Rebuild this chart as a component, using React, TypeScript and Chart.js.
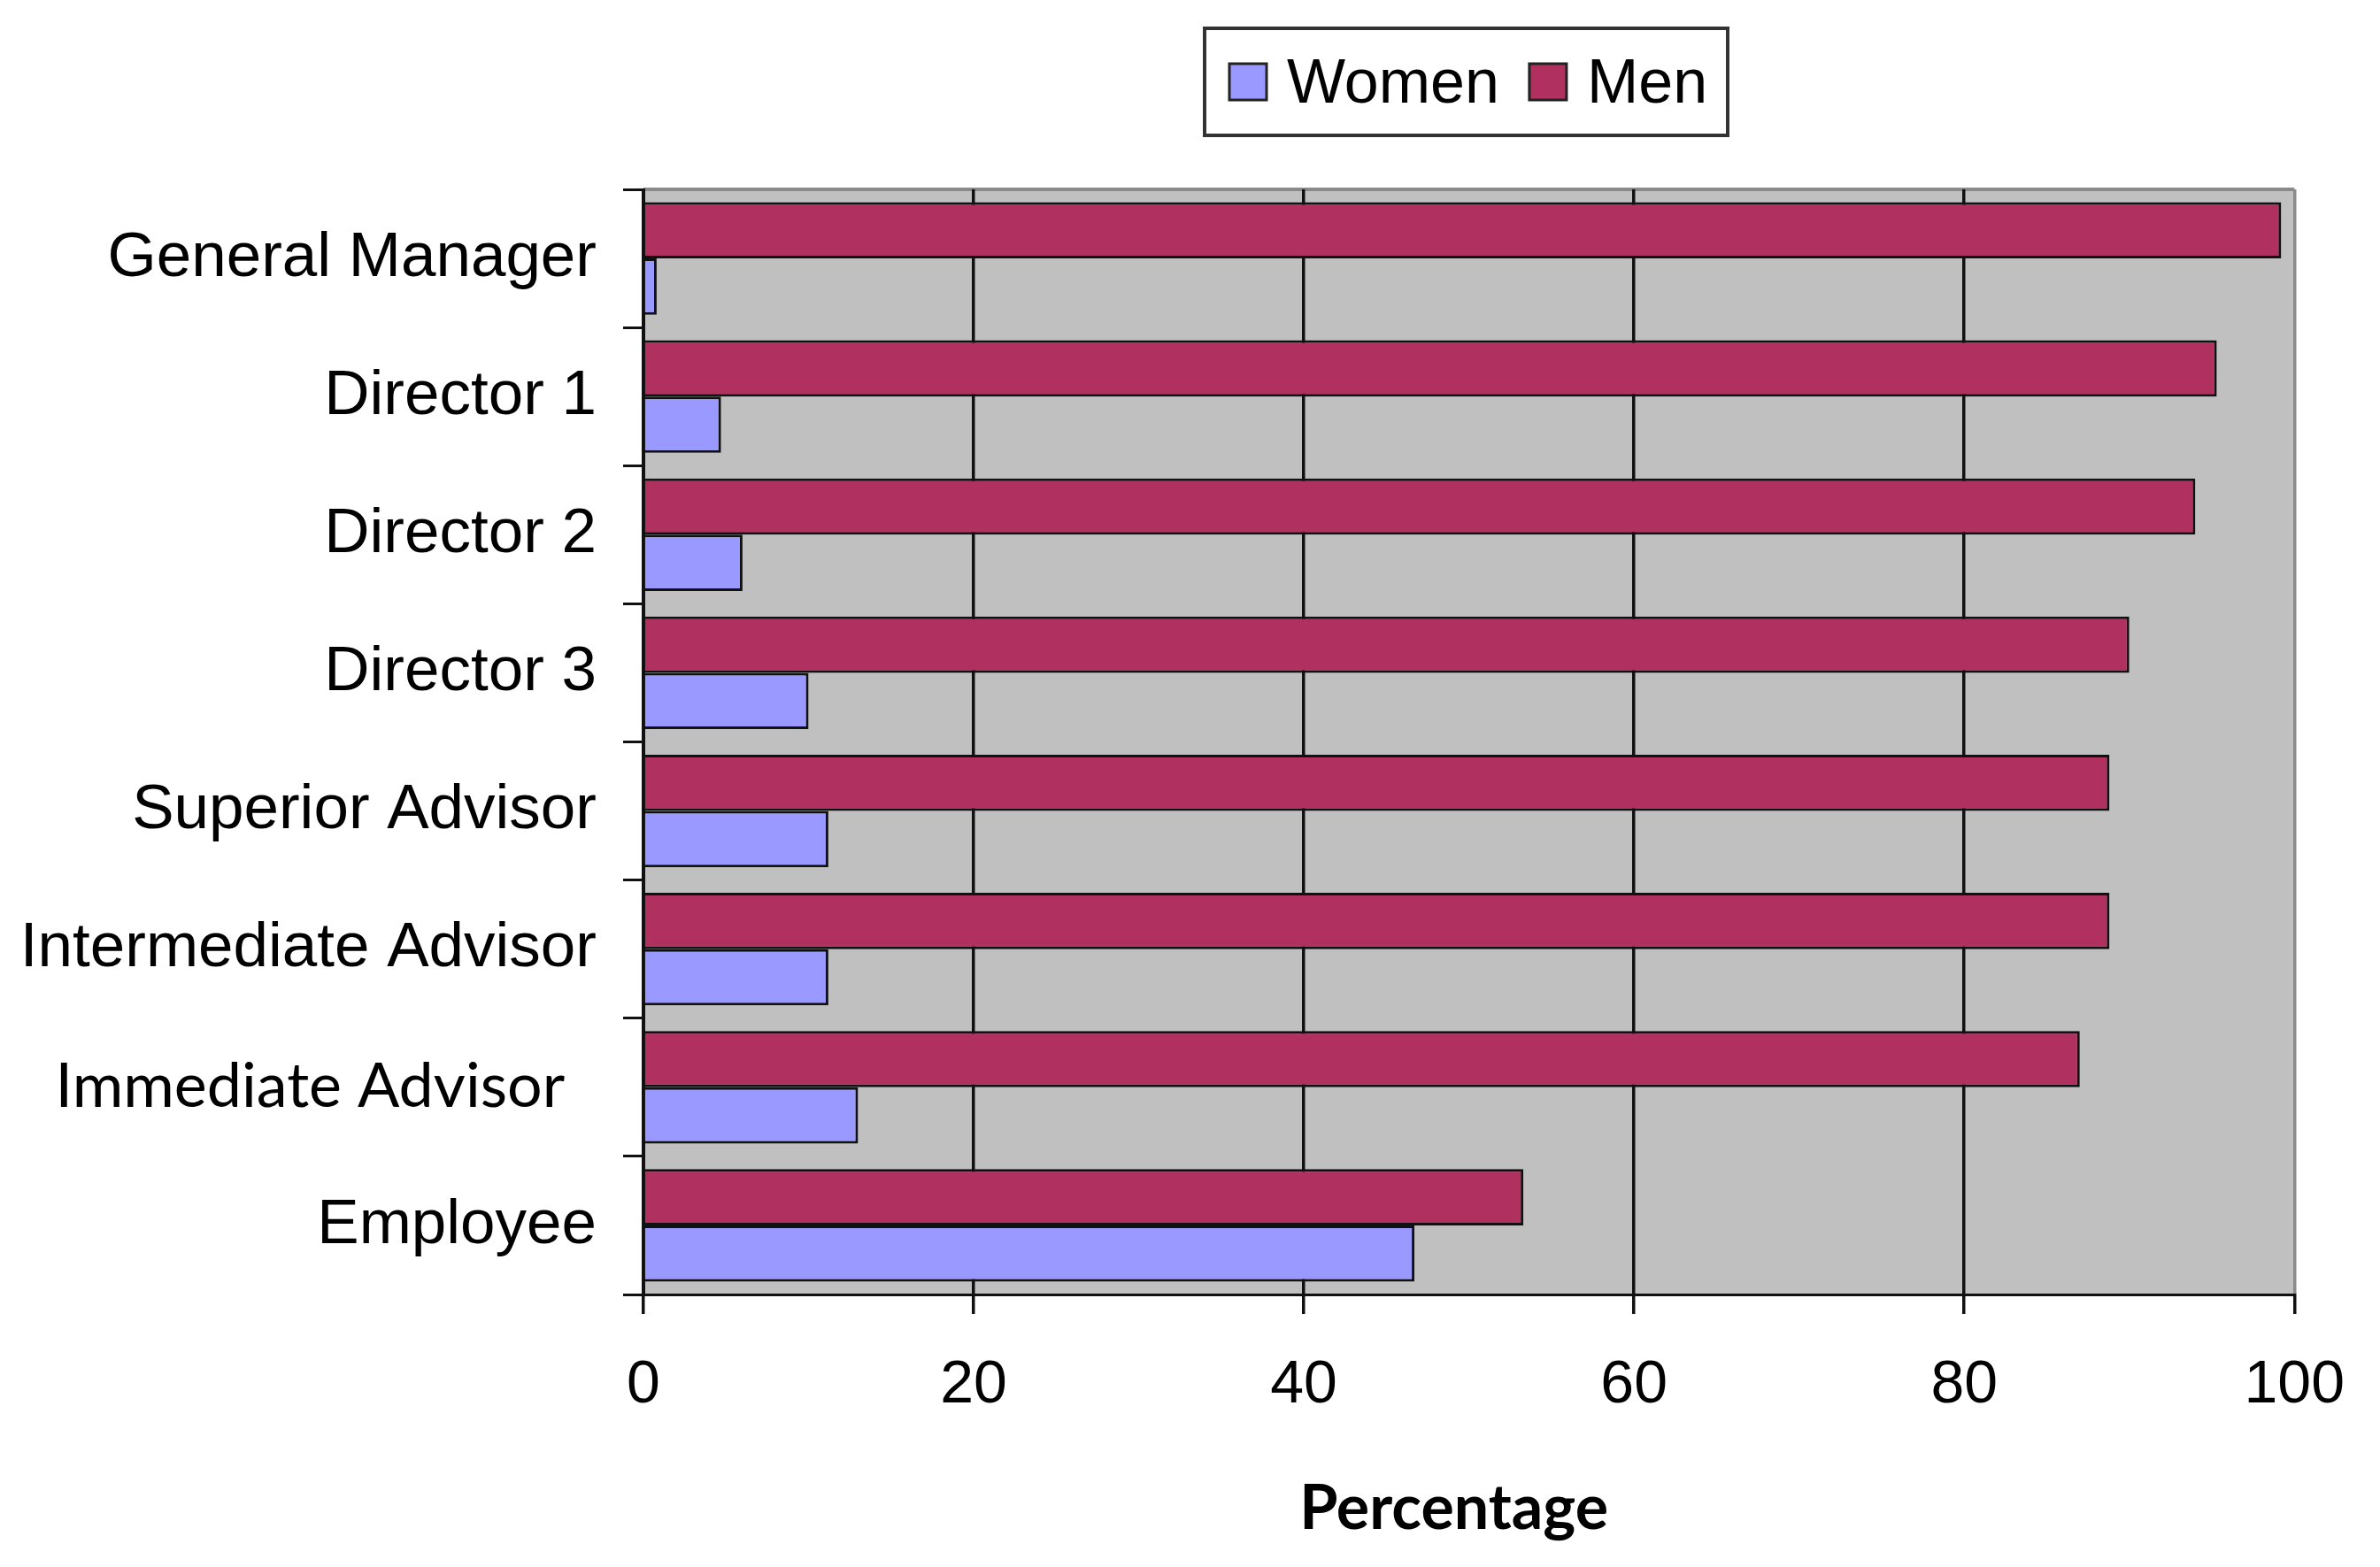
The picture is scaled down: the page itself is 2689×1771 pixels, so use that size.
import { useEffect, useRef } from 'react';
import Chart from 'chart.js/auto';

const positions = [
  'General Manager',
  'Director 1',
  'Director 2',
  'Director 3',
  'Superior Advisor',
  'Intermediate Advisor',
  'Immediate Advisor',
  'Employee',
];
const menShare = [99.2, 95.3, 94, 90, 88.8, 88.8, 87, 53.3];
const womenShare = [0.8, 4.7, 6, 10, 11.2, 11.2, 13, 46.7];
const xTicks = [0, 20, 40, 60, 80, 100];

const MEN = '#b03060';
const WOMEN = '#9999ff';
const ARIAL = '"Liberation Sans", Arial, sans-serif';

// grey plot area with a grey frame on top
const plotBackground = {
  id: 'plotBackground',
  beforeDraw(chart: any) {
    const { ctx, chartArea: a } = chart;
    ctx.save();
    ctx.fillStyle = '#c0c0c0';
    ctx.fillRect(a.left, a.top, a.right - a.left, a.bottom - a.top);
    ctx.strokeStyle = '#8a8a8a';
    ctx.lineWidth = 4;
    ctx.beginPath();
    ctx.moveTo(a.left, a.top);
    ctx.lineTo(a.right, a.top);
    ctx.stroke();
    ctx.restore();
  },
};

// boxed legend, Women first
const boxedLegend = {
  id: 'boxedLegend',
  afterDraw(chart: any) {
    const { ctx } = chart;
    const sets = [...chart.data.datasets].reverse();
    ctx.save();
    ctx.strokeStyle = '#333';
    ctx.lineWidth = 4;
    ctx.strokeRect(1361, 32, 591, 121);
    ctx.font = '70px ' + ARIAL;
    ctx.textBaseline = 'alphabetic';
    let x = 1389;
    sets.forEach((ds: any) => {
      ctx.fillStyle = ds.backgroundColor;
      ctx.fillRect(x, 72, 42, 41);
      ctx.strokeStyle = '#222';
      ctx.lineWidth = 3;
      ctx.strokeRect(x, 72, 42, 41);
      x += 65;
      ctx.fillStyle = '#000';
      ctx.fillText(ds.label, x, 116);
      x += ctx.measureText(ds.label).width + 34;
    });
    ctx.restore();
  },
};

export default function App() {
  const chartRef = useRef<HTMLCanvasElement>(null);
  const chartInstance = useRef<Chart | null>(null);

  useEffect(() => {
    document.body.style.margin = '0';
    if (!chartRef.current) return;
    const ctx = chartRef.current.getContext('2d');
    if (!ctx) return;

    if (chartInstance.current) {
      chartInstance.current.destroy();
    }

    chartInstance.current = new Chart(ctx, {
      type: 'bar',
      data: {
        labels: positions,
        datasets: [
          {
            label: 'Men',
            data: menShare,
            backgroundColor: MEN,
            borderColor: '#111',
            borderWidth: 3,
          },
          {
            label: 'Women',
            data: womenShare,
            backgroundColor: WOMEN,
            borderColor: '#111',
            borderWidth: 3,
          },
        ],
      },
      plugins: [plotBackground, boxedLegend],
      options: {
        indexAxis: 'y',
        animation: false,
        responsive: true,
        maintainAspectRatio: false,
        datasets: {
          bar: {
            barPercentage: 1,
            categoryPercentage: 0.815,
          },
        },
        layout: {
          padding: { top: 214, right: 92, bottom: 0, left: 0 },
        },
        plugins: {
          legend: { display: false },
          tooltip: { enabled: false },
        },
        scales: {
          x: {
            min: 0,
            max: 100,
            afterBuildTicks: (scale: any) => {
              scale.ticks = xTicks.map((v) => ({ value: v }));
            },
            afterFit: (scale: any) => {
              scale.height = 308;
            },
            grid: {
              color: (c: any) => (c.tick && c.tick.value === 100 ? '#8a8a8a' : '#111'),
              lineWidth: 3.5,
              tickColor: '#111',
              tickLength: 22,
            },
            border: { color: '#111', width: 3 },
            ticks: {
              color: '#000',
              padding: 40,
              font: { family: ARIAL, size: 68 },
            },
            title: {
              display: true,
              text: 'Percentage  ',
              color: '#000',
              font: { family: 'Lato', size: 70, weight: 'bold' },
              padding: { top: 0, bottom: 24 },
            },
          },
          y: {
            afterFit: (scale: any) => {
              scale.width = 727;
            },
            grid: {
              drawOnChartArea: false,
              offset: true,
              tickLength: 23,
              tickColor: '#111',
              lineWidth: 3,
            },
            border: { color: '#111', width: 3 },
            ticks: {
              color: '#000',
              padding: 30,
              autoSkip: false,
              callback: (_v: any, i: number) =>
                i === 6 ? positions[i] + '  ' : positions[i],
              font: (c: any) =>
                c.index === 6
                  ? { family: 'Lato', size: 70 }
                  : { family: ARIAL, size: 71 },
            },
          },
        },
      },
    });

    return () => {
      if (chartInstance.current) {
        chartInstance.current.destroy();
        chartInstance.current = null;
      }
    };
  }, []);

  return (
    <div style={{ position: 'relative', width: 2689, height: 1771, background: '#fff' }}>
      <canvas ref={chartRef}></canvas>
    </div>
  );
}
